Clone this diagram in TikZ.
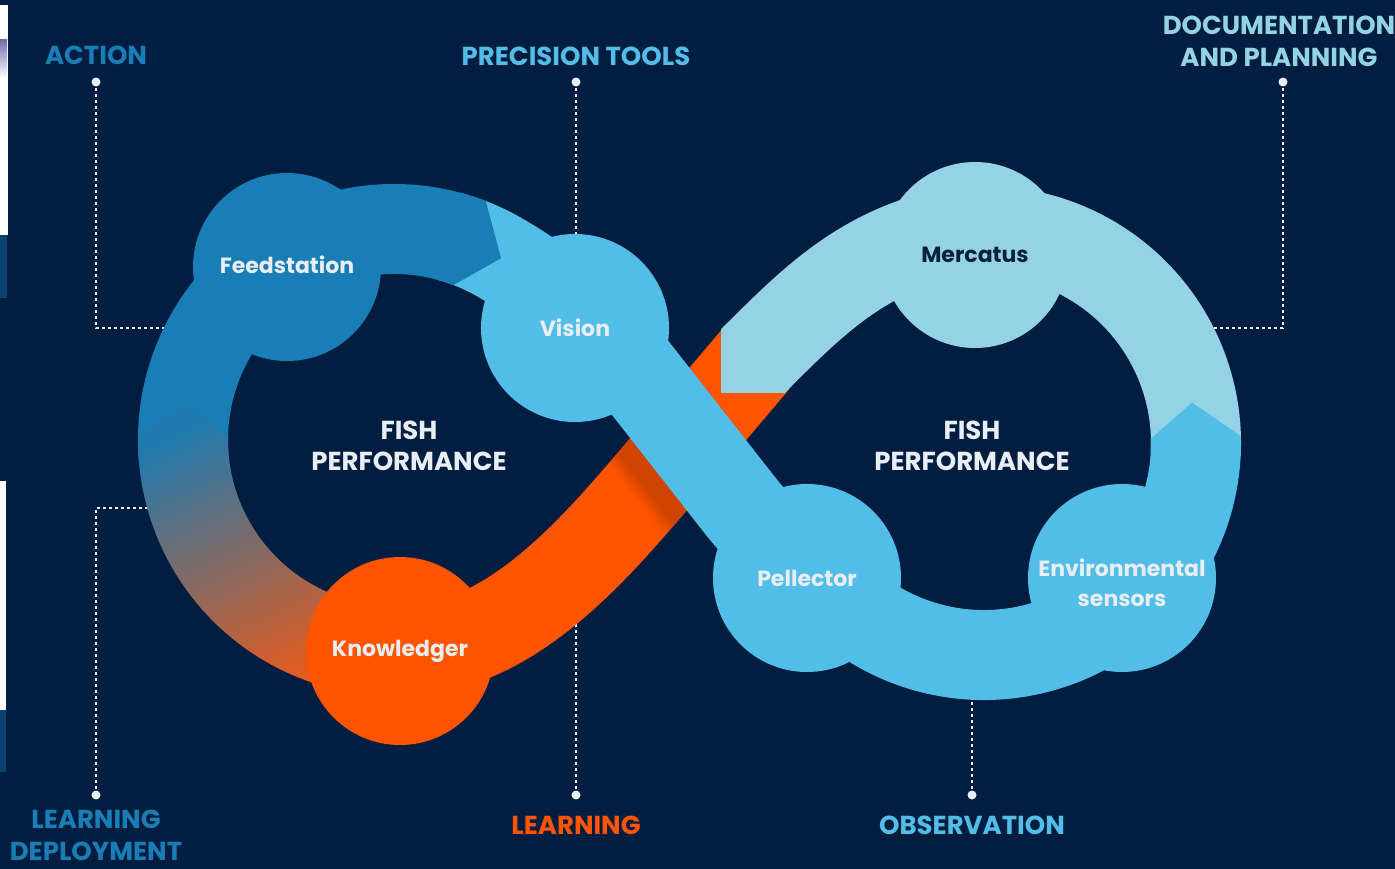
\documentclass[tikz,border=0pt]{standalone}
\usepackage{fontspec}
\setmainfont{Poppins}
\usetikzlibrary{calc}
\definecolor{bg}{RGB}{1,30,64}
\definecolor{dblue}{RGB}{25,126,181}
\definecolor{lblue}{RGB}{82,190,232}
\definecolor{pblue}{RGB}{148,211,229}
\definecolor{orng}{RGB}{255,84,0}
\definecolor{gorng}{RGB}{236,90,24}
\definecolor{gblue}{RGB}{32,122,175}
\definecolor{txtw}{RGB}{232,238,243}
\definecolor{navytxt}{RGB}{10,32,62}
\definecolor{artblue}{RGB}{10,66,112}
\definecolor{artlav}{RGB}{120,110,175}
\begin{document}
\begin{tikzpicture}[x=1pt,y=-1pt,
  lab/.style={font=\fontsize{26}{32}\selectfont\bfseries, align=center, inner sep=0pt},
  fishlab/.style={font=\fontsize{26}{31}\selectfont\bfseries, align=center, inner sep=0pt, text=txtw},
  nodecirc/.style={circle, minimum size=188pt, inner sep=0pt, font=\fontsize{22}{30}\selectfont\bfseries, text=txtw, align=center},
  nodetext/.style={inner sep=0pt, font=\fontsize{22}{30}\selectfont\bfseries, text=txtw, align=center},
  leader/.style={draw=txtw, line width=2pt, dash pattern=on 3pt off 3pt},
  enddot/.style={circle, fill=txtw, minimum size=9pt, inner sep=0pt},
  band/.style={line width=90pt},
  shadowband/.style={line width=#1, draw=black, opacity=0.022},
]
\fill[bg] (0,0) rectangle (1395,869);
\useasboundingbox (0,0) rectangle (1395,869);

% screenshot remnants at the left edge
\fill[white] (0,5) rectangle (8,235);
\shade[top color=artlav, bottom color=white] (0,40) rectangle (7,78);
\fill[artblue] (0,235) rectangle (7,298);
\fill[white] (0,481) rectangle (6,710);
\fill[artblue] (0,710) rectangle (6,772);

% centres
\coordinate (L) at (394,440);
\coordinate (R) at (984,443);
\coordinate (M) at (688,439);

% labels
\node[lab, text=dblue] (action) at (96,55) {ACTION};
\node[lab, text=lblue] (prec) at (576,56) {PRECISION TOOLS};
\node[lab, text=pblue] (doc) at (1279,41) {DOCUMENTATION\\AND PLANNING};
\node[lab, text=dblue] (ldep) at (96,835) {LEARNING\\DEPLOYMENT};
\node[lab, text=orng] (learn) at (576,825) {LEARNING};
\node[lab, text=lblue] (obs) at (972,825) {OBSERVATION};

% leader end points
\coordinate (d1) at (96,82);
\coordinate (d2) at (576,82);
\coordinate (d3) at (1283,82);
\coordinate (d4) at (96,795);
\coordinate (d5) at (576,795);
\coordinate (d6) at (972,795);
\coordinate (e1) at (185,328);
\coordinate (e2) at (576,260);
\coordinate (e3) at (1195,328);
\coordinate (e4) at (165,508);
\coordinate (e5) at (576,600);
\coordinate (e6) at (972,680);

\draw[leader] (d1) |- (e1);
\draw[leader] (d2) -- (e2);
\draw[leader] (d3) |- (e3);
\draw[leader] (d4) |- (e4);
\draw[leader] (d5) -- (e5);
\draw[leader] (d6) -- (e6);
\foreach \d in {d1,d2,d3,d4,d5,d6} \node[enddot] at (\d) {};

% orange band
\draw[band, orng] (755,360) -- (M) .. controls (610.2,530.4) and (520,651) .. (400,651);

% pale band (Mercatus)
\draw[band, pblue] ($(R)+(3:212)$) arc[start angle=3, end angle=-110, radius=212]
   .. controls (845.7,267.7) and (802.5,311.5) .. (753,361);
\fill[pblue] (728.3,322.1) -- (721.2,329.2) -- (721.2,392.8) -- (784.8,392.8) -- (791.9,385.7) -- cycle;

% soft shadow of the light blue band on the orange band
\begin{scope}
  \clip (720.7,330.8) -- (575.7,500.8) -- (644.3,559.2) -- (789.3,389.2) -- cycle;
  \foreach \w in {92,96,...,120} \draw[shadowband=\w pt] (595.8,350.1) -- (745.8,542.1);
\end{scope}

% light blue band
\draw[band, lblue] ($(L)+(285:211)$) arc[start angle=285, end angle=300, radius=211]
   .. controls (551.5,287.3) and (601.7,328.7) .. (638.7,376) -- (737.3,502)
   .. controls (774.3,549.3) and (826,596.6) .. ($(R)+(120:212)$)
   arc[start angle=120, end angle=-1.5, radius=212];
\fill[lblue] ($(R)+(3:167)$) -- ($(R)+(-1.5:167)$) -- ($(R)+(-11:212)$)
   -- ($(R)+(-1.5:257)$) -- ($(R)+(3:257)$) -- cycle;

% dark blue band
\fill[dblue] ($(L)+(175:256)$) arc[start angle=175, end angle=291, radius=256]
   -- ($(L)+(300.5:211)$) -- ($(L)+(291:166)$)
   arc[start angle=291, end angle=175, radius=166] -- cycle;

% gradient band
\shade[top color=gblue, bottom color=gorng, shading angle=25]
   ($(L)+(90:256)$) arc[start angle=90, end angle=181, radius=256]
   -- ($(L)+(190.5:211)$) -- ($(L)+(181:166)$)
   arc[start angle=181, end angle=90, radius=166] -- cycle;

% nodes
\node[nodecirc, fill=dblue] (feed) at (287,267) {};
\node[nodetext] (feedt) at (287,265) {Feedstation};
\node[nodecirc, fill=lblue] (vision) at (575,328) {Vision};
\node[nodecirc, fill=orng] (know) at (400,651) {Knowledger};
\node[nodecirc, fill=lblue] (pell) at (807,578) {Pellector};
\node[nodecirc, fill=lblue] (env) at (1122,578) {};
\node[nodetext] (envt) at (1122,583) {Environmental\\sensors};
\node[nodecirc, fill=pblue, text=navytxt, minimum size=186pt] (merc) at (975,255) {Mercatus};

\node[fishlab] (fp1) at (409,446) {FISH\\PERFORMANCE};
\node[fishlab] (fp2) at (972,446) {FISH\\PERFORMANCE};
\end{tikzpicture}
\end{document}
